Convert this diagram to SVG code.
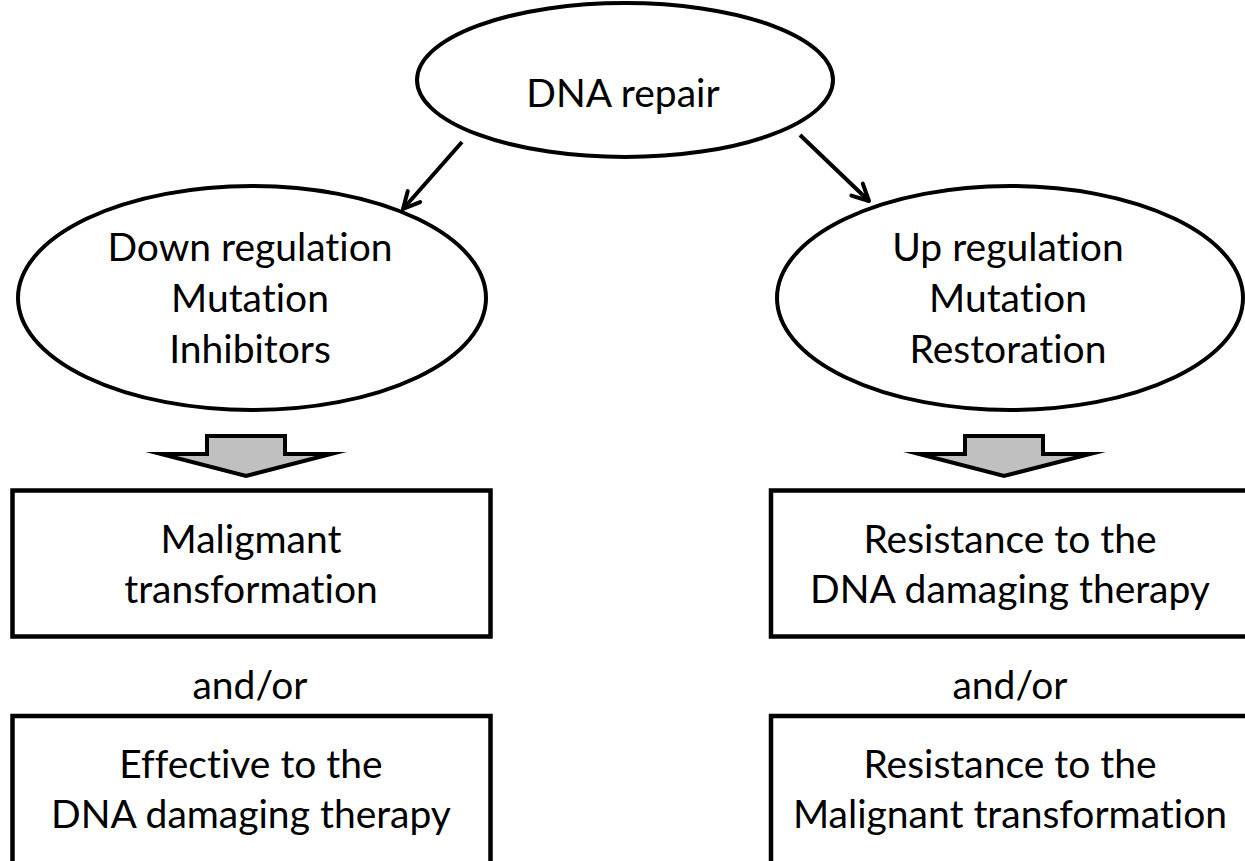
<svg xmlns="http://www.w3.org/2000/svg" width="1245" height="861" viewBox="0 0 1245 861">
<defs>
<style>
.shape{fill:#fff;stroke:#000;stroke-width:4}
.box{fill:#fff;stroke:#000;stroke-width:4.5}
.blk{fill:#c0c0c0;stroke:#000;stroke-width:4;stroke-linejoin:miter;stroke-miterlimit:20}
.con{fill:none;stroke:#000;stroke-width:4}
text{font-family:Lato,"Liberation Sans",sans-serif;font-size:39px;fill:#000;text-anchor:middle;font-variant-ligatures:none;font-feature-settings:"liga" 0}
</style>
<marker id="ah" viewBox="0 0 12 12" refX="10.5" refY="6" markerWidth="22" markerHeight="22" markerUnits="userSpaceOnUse" orient="auto">
<path d="M1.5,1.5 L10.5,6 L1.5,10.5" fill="none" stroke="#000" stroke-width="2.2" stroke-linecap="round" stroke-linejoin="round"/>
</marker>
</defs>
<rect width="1245" height="861" fill="#fff"/>
<g id="connectors">
<line class="con" x1="462" y1="142" x2="403" y2="209" marker-end="url(#ah)"/>
<line class="con" x1="800" y1="135" x2="869" y2="201" marker-end="url(#ah)"/>
<polygon class="blk" points="207,436 285,436 285,454 331,454 246,476 161,454 207,454"/>
<polygon class="blk" points="965,436 1043,436 1043,454 1090,454 1004,476 919,454 965,454"/>
</g>
<g id="dna-repair">
<ellipse class="shape" cx="625" cy="80" rx="208" ry="77"/>
<text x="623" y="107">DNA repair</text>
</g>
<g id="down">
<ellipse class="shape" cx="252" cy="298" rx="234" ry="112"/>
<text x="250" y="261">Down regulation</text>
<text x="250" y="312">Mutation</text>
<text x="250" y="363">Inhibitors</text>
</g>
<g id="up">
<ellipse class="shape" cx="1010" cy="298" rx="233" ry="112"/>
<text x="1008" y="261">Up regulation</text>
<text x="1008" y="312">Mutation</text>
<text x="1008" y="363">Restoration</text>
</g>
<g id="malignant">
<rect class="box" x="12.5" y="490.5" width="478" height="146"/>
<text x="251" y="553">Maligmant</text>
<text x="251" y="603">transformation</text>
</g>
<g id="resistance-therapy">
<rect class="box" x="771" y="490.5" width="480" height="146"/>
<text x="1010" y="553">Resistance to the</text>
<text x="1010" y="603">DNA damaging therapy</text>
</g>
<text x="250" y="699">and/or</text>
<text x="1010" y="699">and/or</text>
<g id="effective">
<rect class="box" x="12.5" y="716" width="478" height="160"/>
<text x="251" y="778">Effective to the</text>
<text x="251" y="828">DNA damaging therapy</text>
</g>
<g id="resistance-malignant">
<rect class="box" x="771" y="716" width="480" height="160"/>
<text x="1010" y="778">Resistance to the</text>
<text x="1010" y="828">Malignant transformation</text>
</g>
</svg>
